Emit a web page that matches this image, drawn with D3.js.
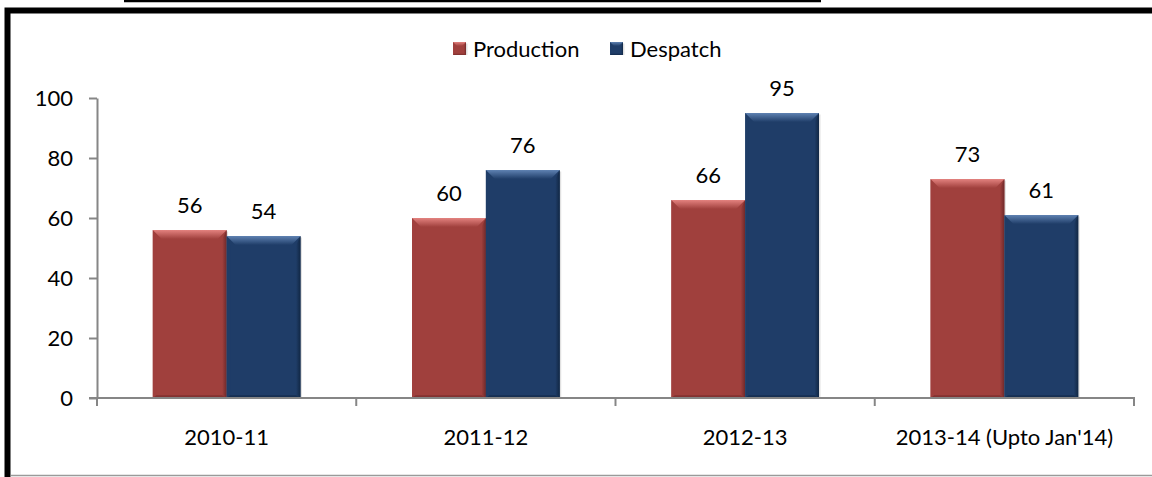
<!DOCTYPE html>
<html>
<head>
	<meta charset="utf-8">
	<script src="https://cdnjs.cloudflare.com/ajax/libs/d3/7.8.5/d3.min.js"></script>
	<style type="text/css">
		body { margin: 0; background: #fff; }
		text { font-family: Lato, "Open Sans", sans-serif; fill: #000; }
	</style>
</head>
<body>
	<script type="text/javascript">

		let categories = ['2010-11', '2011-12', '2012-13', "2013-14 (Upto Jan'14)"];
		let series = ['Production', 'Despatch'];
		let production = [56, 60, 66, 73];
		let despatch = [54, 76, 95, 61];
		let yTicks = [0, 20, 40, 60, 80, 100];

		let colors = {
			Production: { main: '#a0403d', light: '#e3827f', dark: '#70292a' },
			Despatch: { main: '#1f3d68', light: '#5f82b2', dark: '#112744' }
		};

		let data = categories.map((c, i) => ({
			cat: c,
			vals: [
				{ key: 'Production', v: production[i] },
				{ key: 'Despatch', v: despatch[i] }
			]
		}));

		let W = 1152, H = 477;
		let fontSize = '22px';
		let svg = d3.select('body').append('svg')
			.attr('width', W)
			.attr('height', H);

		// frame
		svg.append('line')
			.attr('x1', 124).attr('x2', 821).attr('y1', 1).attr('y2', 1)
			.attr('stroke', '#000').attr('stroke-width', 2.5);
		svg.append('line')
			.attr('x1', 11).attr('x2', W).attr('y1', 475.5).attr('y2', 475.5)
			.attr('stroke', '#9a9a9a').attr('stroke-width', 1.5);
		svg.append('path')
			.attr('d', `M7.5,${H} L7.5,10.5 L${W},10.5`)
			.attr('fill', 'none')
			.attr('stroke', '#000').attr('stroke-width', 6);

		let xScale = d3.scaleBand().domain(categories).range([97, 1134]).padding(0);
		let xSub = d3.scaleBand().domain(series).range([0, xScale.bandwidth()])
			.paddingInner(0).paddingOuter(0.755);
		let yScale = d3.scaleLinear().domain([0, 100]).range([398, 98]);

		let defs = svg.append('defs');
		series.forEach(s => {
			let c = colors[s];
			let g = defs.append('linearGradient').attr('id', 'top-' + s)
				.attr('x1', 0).attr('y1', 0).attr('x2', 0).attr('y2', 1);
			g.append('stop').attr('offset', '0%').attr('stop-color', c.light);
			g.append('stop').attr('offset', '100%').attr('stop-color', c.main);
			let r = defs.append('linearGradient').attr('id', 'right-' + s)
				.attr('x1', 0).attr('y1', 0).attr('x2', 1).attr('y2', 0);
			r.append('stop').attr('offset', '0%').attr('stop-color', c.main);
			r.append('stop').attr('offset', '100%').attr('stop-color', c.dark);
		});

		function bevelBar(sel, x0, w, y0, y1, s, b) {
			let c = colors[s];
			let x1 = x0 + w;
			// soft shadow
			sel.append('rect')
				.attr('x', x0 + 1.5).attr('y', y0 + 1.5).attr('width', w).attr('height', y1 - y0 - 1.5)
				.attr('fill', '#000').attr('opacity', 0.12);
			sel.append('rect')
				.attr('x', x0).attr('y', y0).attr('width', w).attr('height', y1 - y0)
				.attr('fill', c.main);
			// right edge
			sel.append('polygon')
				.attr('points', [[x1, y0], [x1, y1], [x1 - b * 0.5, y1 - b * 0.3], [x1 - b * 0.5, y0 + b]].join(' '))
				.attr('fill', `url(#right-${s})`);
			// left edge
			sel.append('polygon')
				.attr('points', [[x0, y0], [x0 + b * 0.4, y0 + b], [x0 + b * 0.4, y1 - b * 0.3], [x0, y1]].join(' '))
				.attr('fill', c.main).attr('opacity', 0.6);
			// bottom edge
			sel.append('polygon')
				.attr('points', [[x0, y1], [x0 + b * 0.4, y1 - b * 0.3], [x1 - b * 0.5, y1 - b * 0.3], [x1, y1]].join(' '))
				.attr('fill', c.dark).attr('opacity', 0.6);
			// top bevel
			sel.append('polygon')
				.attr('points', [[x0, y0], [x1, y0], [x1 - b, y0 + b], [x0 + b, y0 + b]].join(' '))
				.attr('fill', `url(#top-${s})`);
		}

		// bars
		let groups = svg.selectAll('g.cat').data(data).enter().append('g')
			.attr('class', 'cat');
		groups.each(function (d) {
			let g = d3.select(this);
			d.vals.forEach(v => {
				let x0 = xScale(d.cat) + xSub(v.key);
				bevelBar(g.append('g'), x0, xSub.bandwidth(), yScale(v.v), yScale(0), v.key, 9);
				g.append('text')
					.attr('x', x0 + xSub.bandwidth() / 2)
					.attr('y', yScale(v.v) - 17)
					.attr('text-anchor', 'middle')
					.style('font-size', fontSize)
					.text(v.v);
			});
		});

		// y axis
		let yAxis = d3.axisLeft(yScale).tickValues(yTicks).tickSize(8).tickSizeOuter(0).tickPadding(16);
		let yg = svg.append('g').attr('transform', 'translate(97,0)').call(yAxis);
		yg.select('.domain').attr('stroke', '#868686').attr('stroke-width', 2);
		yg.selectAll('.tick line').attr('stroke', '#868686').attr('stroke-width', 2);
		yg.selectAll('.tick text').style('font-size', fontSize).attr('fill', '#000')
			.style('font-family', 'Lato, sans-serif');

		// x axis
		let xg = svg.append('g');
		xg.append('line')
			.attr('x1', xScale.range()[0] - 8).attr('x2', xScale.range()[1] + 1)
			.attr('y1', yScale(0)).attr('y2', yScale(0))
			.attr('stroke', '#868686').attr('stroke-width', 2);
		let bounds = categories.map(c => xScale(c)).concat([xScale.range()[1]]);
		xg.selectAll('line.tk').data(bounds).enter().append('line')
			.attr('class', 'tk')
			.attr('x1', d => d).attr('x2', d => d)
			.attr('y1', yScale(0)).attr('y2', yScale(0) + 8)
			.attr('stroke', '#868686').attr('stroke-width', 2);
		xg.selectAll('text').data(categories).enter().append('text')
			.attr('x', d => xScale(d) + xScale.bandwidth() / 2)
			.attr('y', 445)
			.attr('text-anchor', 'middle')
			.style('font-size', fontSize)
			.text(d => d);

		// legend
		let legendX = [453, 610];
		let lg = svg.selectAll('g.legend').data(series).enter().append('g')
			.attr('class', 'legend')
			.attr('transform', (d, i) => `translate(${legendX[i]},42)`);
		lg.each(function (s) {
			bevelBar(d3.select(this), 0, 13, 0, 13, s, 4);
		});
		lg.append('text')
			.attr('x', 20).attr('y', 15)
			.style('font-size', fontSize)
			.text(d => d);

	</script>
</body>
</html>
